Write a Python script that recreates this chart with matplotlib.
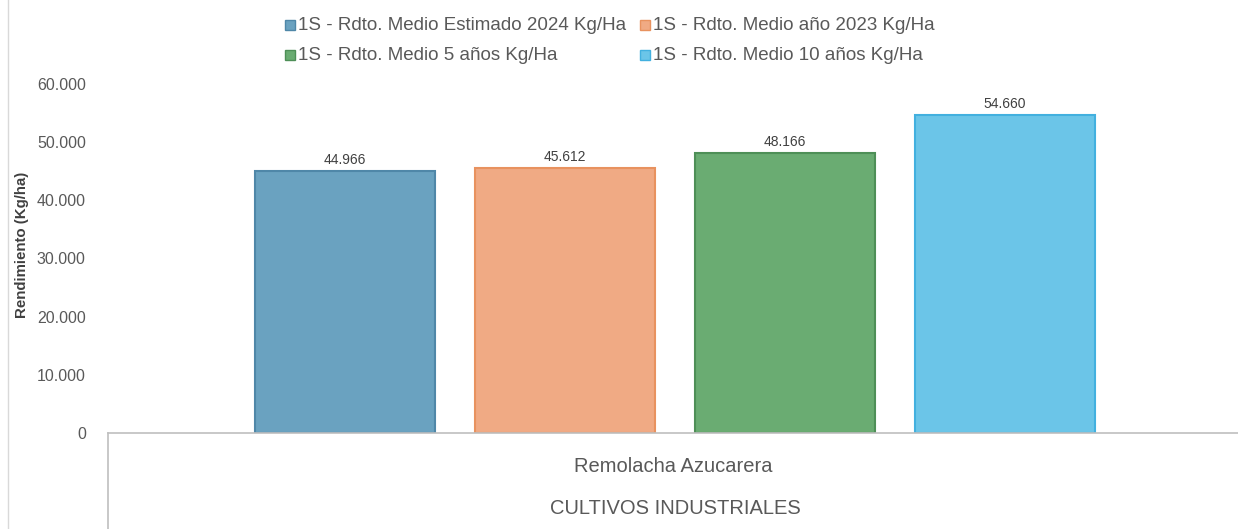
import matplotlib
matplotlib.use("Agg")
import matplotlib.pyplot as plt
from matplotlib.lines import Line2D
from matplotlib.patches import Rectangle

series = ["1S - Rdto. Medio Estimado 2024 Kg/Ha",
          "1S - Rdto. Medio año 2023 Kg/Ha",
          "1S - Rdto. Medio 5 años Kg/Ha",
          "1S - Rdto. Medio 10 años Kg/Ha"]
values = [44966, 45612, 48166, 54660]
category = "Remolacha Azucarera"
group = "CULTIVOS INDUSTRIALES"
yticks = [0, 10000, 20000, 30000, 40000, 50000, 60000]
ytick_labels = ["0", "10.000", "20.000", "30.000", "40.000", "50.000", "60.000"]
value_labels = ["44.966", "45.612", "48.166", "54.660"]

colors = ["#6aa2c0", "#f0aa84", "#6aac72", "#6bc5e8"]
edges = ["#4f87a8", "#e8925f", "#4e8f57", "#42b0df"]

W, H = 1238, 529
fig = plt.figure(figsize=(W/100, H/100), dpi=100)
txt = "#595959"
narrow = ["Liberation Sans Narrow", "Liberation Sans", "DejaVu Sans"]
plain = ["Liberation Sans", "DejaVu Sans"]

ax = fig.add_axes([108/W, (H-433)/H, 1 - 108/W, (433-84)/H])
ax.set_xlim(-0.5, 0.5)
ax.set_ylim(0, 60000)

unit = 1130.0
bw = 180/unit
step = 220/unit
for i, (v, c, e) in enumerate(zip(values, colors, edges)):
    x = (i - 1.5)*step + 2/unit
    ax.bar(x, v, width=bw, color=c, edgecolor=e, linewidth=1.5, zorder=2)
    ax.text(x, v + 700, value_labels[i], ha="center", va="bottom",
            fontsize=10, color="#404040", family=plain)

for s in ["top", "right", "left"]:
    ax.spines[s].set_visible(False)
ax.spines["bottom"].set_color("#bfbfbf")
ax.spines["bottom"].set_linewidth(1.2)
ax.set_yticks(yticks)
ax.set_yticklabels(ytick_labels, fontsize=11.5, color=txt, family=plain)
ax.tick_params(axis="y", length=0, pad=16)
ax.set_xticks([0])
ax.set_xticklabels([category], fontsize=14.5, color=txt, family=narrow)
ax.tick_params(axis="x", length=0, pad=17)

fig.text(22/W, (H-245)/H, "Rendimiento (Kg/ha)", rotation=90,
         ha="center", va="center", fontsize=10.8, fontweight="bold",
         color="#404040", family=narrow)

fig.text(675/W, (H-509)/H, group, ha="center", va="center",
         fontsize=14.5, color=txt, family=narrow)

# separators / border
fig.add_artist(Line2D([108/W, 108/W], [0, (H-433)/H], color="#bfbfbf", lw=1.2))
fig.add_artist(Line2D([8/W, 8/W], [0, 1], color="#d9d9d9", lw=1.0))

# legend
leg_pos = [(285, 25), (640, 25), (285, 55), (640, 55)]
for (lx, ly), s, c, e in zip(leg_pos, series, colors, edges):
    fig.add_artist(Rectangle((lx/W, (H-ly-5)/H), 10/W, 10/H, facecolor=c,
                             edgecolor=e, lw=1, transform=fig.transFigure))
    fig.text((lx+13)/W, (H-ly)/H, s, ha="left", va="center",
             fontsize=13.5, color=txt, family=narrow)

# clipped title tail (only its lower edge is visible in the reference)
fig.text(940/W, (H+6)/H, "Rendimiento Medio (Kg/Ha)", ha="right", va="baseline",
         fontsize=16, color="#2f6fb8", family=narrow)

fig.savefig("out.png", dpi=100)
